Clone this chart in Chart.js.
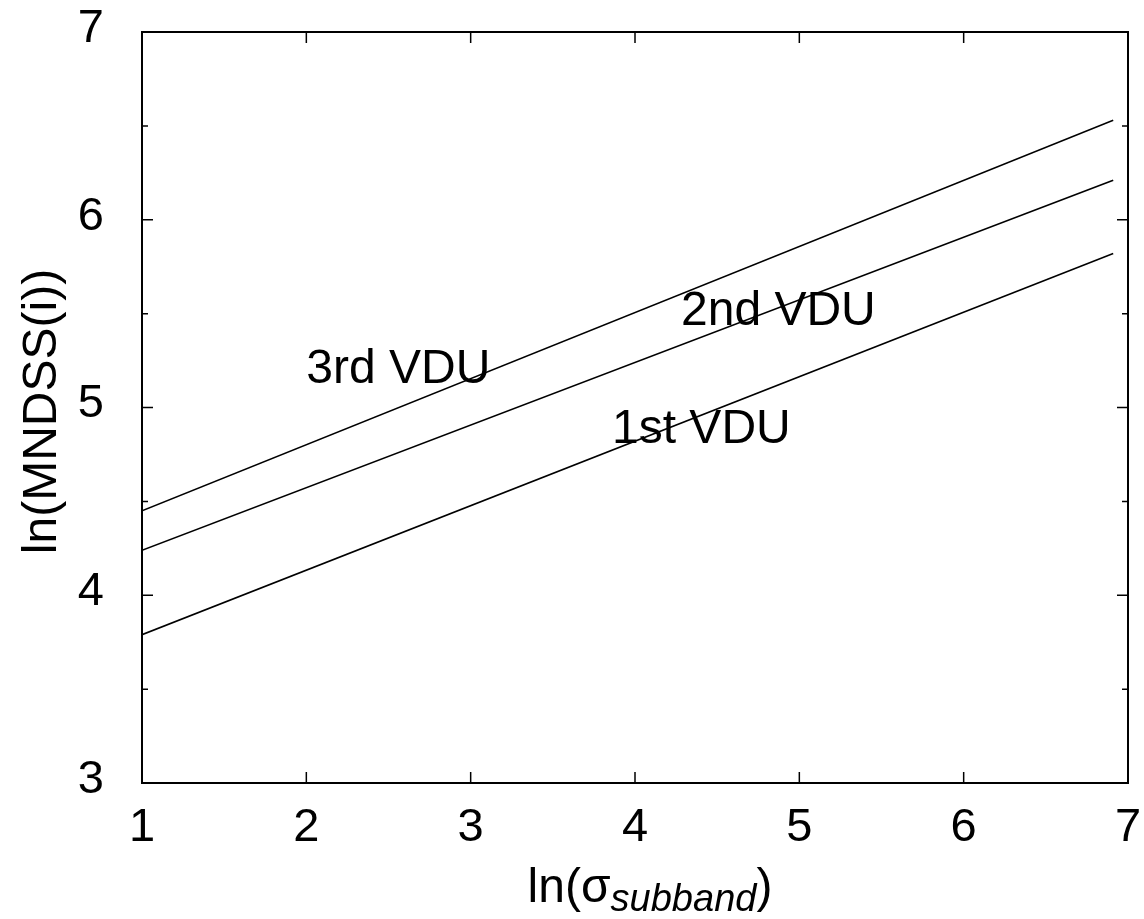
<!DOCTYPE html>
<html>
<head>
<meta charset="utf-8">
<script src="https://cdn.jsdelivr.net/npm/chart.js@4.4.0/dist/chart.umd.min.js"></script>
<style>
  body { margin: 0; background: #fff; }
</style>
</head>
<body>
<canvas id="chart" width="1144" height="919"></canvas>
<script>
// end points of the three fitted lines
const xValues = [1, 6.91];
const vdu1 = [3.79, 5.82];
const vdu2 = [4.24, 6.21];
const vdu3 = [4.45, 6.53];

// text labels placed in data coordinates (left edge, baseline)
const labelTexts = ['1st VDU', '2nd VDU', '3rd VDU'];
const labelX = [3.86, 4.28, 2.0];
const labelY = [4.81, 5.44, 5.13];

const xTicks = [1, 2, 3, 4, 5, 6, 7];
const yTicks = [3, 4, 5, 6, 7];
const yMinorTicks = [3.5, 4.5, 5.5, 6.5];

const FONT = '"Liberation Sans", Arial, Helvetica, sans-serif';

function toPoints(ys) {
    return xValues.map((x, i) => ({x: x, y: ys[i]}));
}

function lineSet(label, ys) {
    return {
        label: label,
        data: toPoints(ys),
        showLine: true,
        borderColor: '#000',
        borderWidth: 1.5,
        pointRadius: 0,
        fill: false
    };
}

// keep the plot box where we put it, no extra room for edge labels
function noPadding(scale) {
    scale.paddingTop = 0;
    scale.paddingBottom = 0;
    scale.paddingLeft = 0;
    scale.paddingRight = 0;
}

// frame, inward ticks, labels and axis titles, like gnuplot draws them
const framePlugin = {
    id: 'frame',
    afterDraw(chart) {
        const ctx = chart.ctx;
        const area = chart.chartArea;
        const xs = chart.scales.x;
        const ys = chart.scales.y;
        const major = 11, minor = 6;

        ctx.save();
        ctx.strokeStyle = '#000';
        ctx.lineWidth = 1.5;
        ctx.beginPath();
        xTicks.forEach(v => {
            const px = xs.getPixelForValue(v);
            ctx.moveTo(px, area.bottom); ctx.lineTo(px, area.bottom - major);
            ctx.moveTo(px, area.top); ctx.lineTo(px, area.top + major);
        });
        yTicks.forEach(v => {
            const py = ys.getPixelForValue(v);
            ctx.moveTo(area.left, py); ctx.lineTo(area.left + major, py);
            ctx.moveTo(area.right, py); ctx.lineTo(area.right - major, py);
        });
        yMinorTicks.forEach(v => {
            const py = ys.getPixelForValue(v);
            ctx.moveTo(area.left, py); ctx.lineTo(area.left + minor, py);
            ctx.moveTo(area.right, py); ctx.lineTo(area.right - minor, py);
        });
        ctx.stroke();

        ctx.lineWidth = 2;
        ctx.strokeRect(area.left, area.top, area.right - area.left, area.bottom - area.top);

        // in-plot labels
        ctx.fillStyle = '#000';
        ctx.font = '48px ' + FONT;
        ctx.textAlign = 'left';
        ctx.textBaseline = 'alphabetic';
        labelTexts.forEach((t, i) => {
            ctx.fillText(t, xs.getPixelForValue(labelX[i]), ys.getPixelForValue(labelY[i]));
        });

        // y axis title
        ctx.save();
        ctx.translate(56, (area.top + area.bottom) / 2 + 4);
        ctx.rotate(-Math.PI / 2);
        ctx.textAlign = 'center';
        ctx.fillText('ln(MNDSS(i))', 0, 0);
        ctx.restore();

        // x axis title with italic subscript
        const mainFont = '48px ' + FONT;
        const subFont = 'italic 38px ' + FONT;
        ctx.font = mainFont;
        const w1 = ctx.measureText('ln(σ').width;
        const w3 = ctx.measureText(')').width;
        ctx.font = subFont;
        const w2 = ctx.measureText('subband').width;
        let x = 650 - (w1 + w2 + w3) / 2;
        const base = 902;
        ctx.textAlign = 'left';
        ctx.font = mainFont;
        ctx.fillText('ln(σ', x, base);
        x += w1;
        ctx.font = subFont;
        ctx.fillText('subband', x, base + 9);
        x += w2;
        ctx.font = mainFont;
        ctx.fillText(')', x, base);
        ctx.restore();
    }
};

const ctx = document.getElementById('chart').getContext('2d');
const myChart = new Chart(ctx, {
    type: 'scatter',
    data: {
        datasets: [
            lineSet('1st VDU', vdu1),
            lineSet('2nd VDU', vdu2),
            lineSet('3rd VDU', vdu3)
        ]
    },
    options: {
        responsive: false,
        animation: false,
        layout: {padding: {top: 32, right: 16, left: 0, bottom: 0}},
        plugins: {
            legend: {display: false},
            tooltip: {enabled: false}
        },
        scales: {
            x: {
                type: 'linear',
                min: 1,
                max: 7,
                grid: {display: false, drawTicks: false},
                border: {display: false},
                afterFit: function(scale) { scale.height = 136; noPadding(scale); },
                afterBuildTicks: function(scale) { scale.ticks = xTicks.map(v => ({value: v})); },
                ticks: {
                    color: '#000',
                    padding: 17,
                    maxRotation: 0,
                    font: {family: FONT, size: 47}
                }
            },
            y: {
                type: 'linear',
                min: 3,
                max: 7,
                grid: {display: false, drawTicks: false},
                border: {display: false},
                afterFit: function(scale) { scale.width = 142; noPadding(scale); },
                afterBuildTicks: function(scale) { scale.ticks = yTicks.map(v => ({value: v})); },
                ticks: {
                    color: '#000',
                    padding: 38,
                    labelOffset: -3,
                    font: {family: FONT, size: 47}
                }
            }
        }
    },
    plugins: [framePlugin]
});
</script>
</body>
</html>
